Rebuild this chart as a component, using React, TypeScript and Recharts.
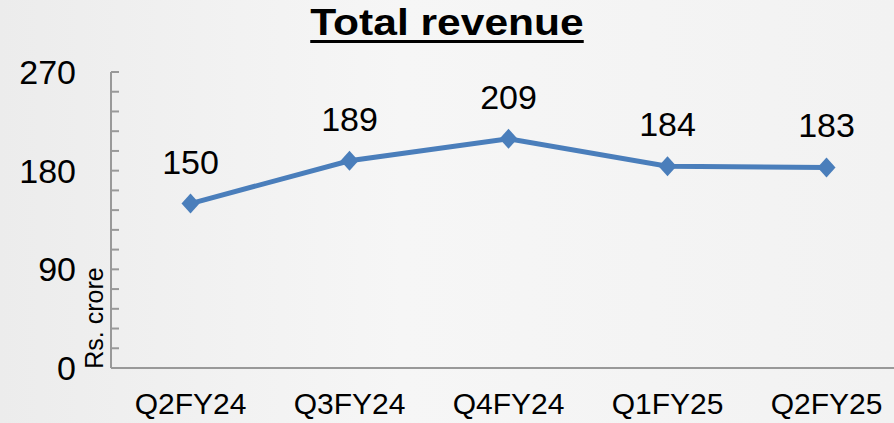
import { LineChart, Line, XAxis, YAxis, LabelList } from "recharts";

const quarters = ["Q2FY24", "Q3FY24", "Q4FY24", "Q1FY25", "Q2FY25"];
const revenue = [150, 189, 209, 184, 183];
const yTicks = [0, 18, 36, 54, 72, 90, 108, 126, 144, 162, 180, 198, 216, 234, 252, 270];
const majorTicks = [0, 90, 180, 270];

const data = quarters.map((q, i) => ({ name: q, value: revenue[i] }));

const FONT = '"Liberation Sans", Arial, sans-serif';
const TICK_MARGIN = 35;

const YTick = (props: any) => {
  const { x, y, payload } = props;
  const axisX = x + TICK_MARGIN;
  const isMajor = majorTicks.includes(payload.value);
  return (
    <g>
      <line x1={axisX} x2={axisX + 8} y1={y} y2={y} stroke="#999" strokeWidth={2} />
      {isMajor && (
        <text x={x} y={y} dy={12} textAnchor="end" fontSize={34} fill="#000" fontFamily={FONT}>
          {payload.value}
        </text>
      )}
    </g>
  );
};

const UnitLabel = (props: any) => {
  const { viewBox } = props;
  const cx = viewBox.x + viewBox.width - 17;
  const cy = viewBox.y + viewBox.height - 50;
  return (
    <text
      x={cx}
      y={cy}
      transform={`rotate(-90, ${cx}, ${cy})`}
      textAnchor="middle"
      dominantBaseline="central"
      fontSize={25}
      fill="#000"
      fontFamily={FONT}
    >
      Rs. crore
    </text>
  );
};

const App = () => {
  return (
    <div
      style={{
        position: "fixed",
        left: 0,
        top: 0,
        width: 894,
        height: 423,
        overflow: "hidden",
        background: "linear-gradient(90deg, #ececec 0%, #f6f6f6 45%, #f2f2f2 100%)",
        fontFamily: FONT,
      }}
    >
      <div
        style={{
          position: "absolute",
          left: 0,
          top: 0,
          width: 894,
          textAlign: "center",
          fontSize: 37,
          fontWeight: "bold",
          transform: "scaleX(1.15)",
          transformOrigin: "447px 0",
          textDecoration: "underline",
          textDecorationThickness: 3,
          textUnderlineOffset: 5,
          lineHeight: "46px",
          color: "#000",
        }}
      >
        Total revenue
      </div>
      <LineChart
        width={920}
        height={423}
        data={data}
        margin={{ top: 72, right: 14, bottom: 0, left: 0 }}
        style={{ position: "absolute", left: 0, top: 0 }}
      >
        <XAxis
          dataKey="name"
          scale="band"
          height={55}
          axisLine={{ stroke: "#999", strokeWidth: 2 }}
          tickLine={false}
          tickSize={0}
          tickMargin={25}
          tick={{ fontSize: 30, fill: "#000", fontFamily: FONT }}
        />
        <YAxis
          width={111}
          domain={[0, 270]}
          ticks={yTicks}
          interval={0}
          axisLine={{ stroke: "#999", strokeWidth: 2 }}
          tickLine={false}
          tickSize={0}
          tickMargin={TICK_MARGIN}
          tick={<YTick />}
          label={<UnitLabel />}
        />
        <Line
          dataKey="value"
          stroke="#4A7EBB"
          strokeWidth={5}
          isAnimationActive={false}
          dot={(p: any) => (
            <path
              key={p.index}
              d={`M${p.cx},${p.cy - 10} L${p.cx + 9},${p.cy} L${p.cx},${p.cy + 10} L${p.cx - 9},${p.cy} Z`}
              fill="#4A7EBB"
            />
          )}
        >
          <LabelList
            dataKey="value"
            position="top"
            offset={30}
            fontSize={34}
            fill="#000"
            fontFamily={FONT}
          />
        </Line>
      </LineChart>
    </div>
  );
};

export default App;
